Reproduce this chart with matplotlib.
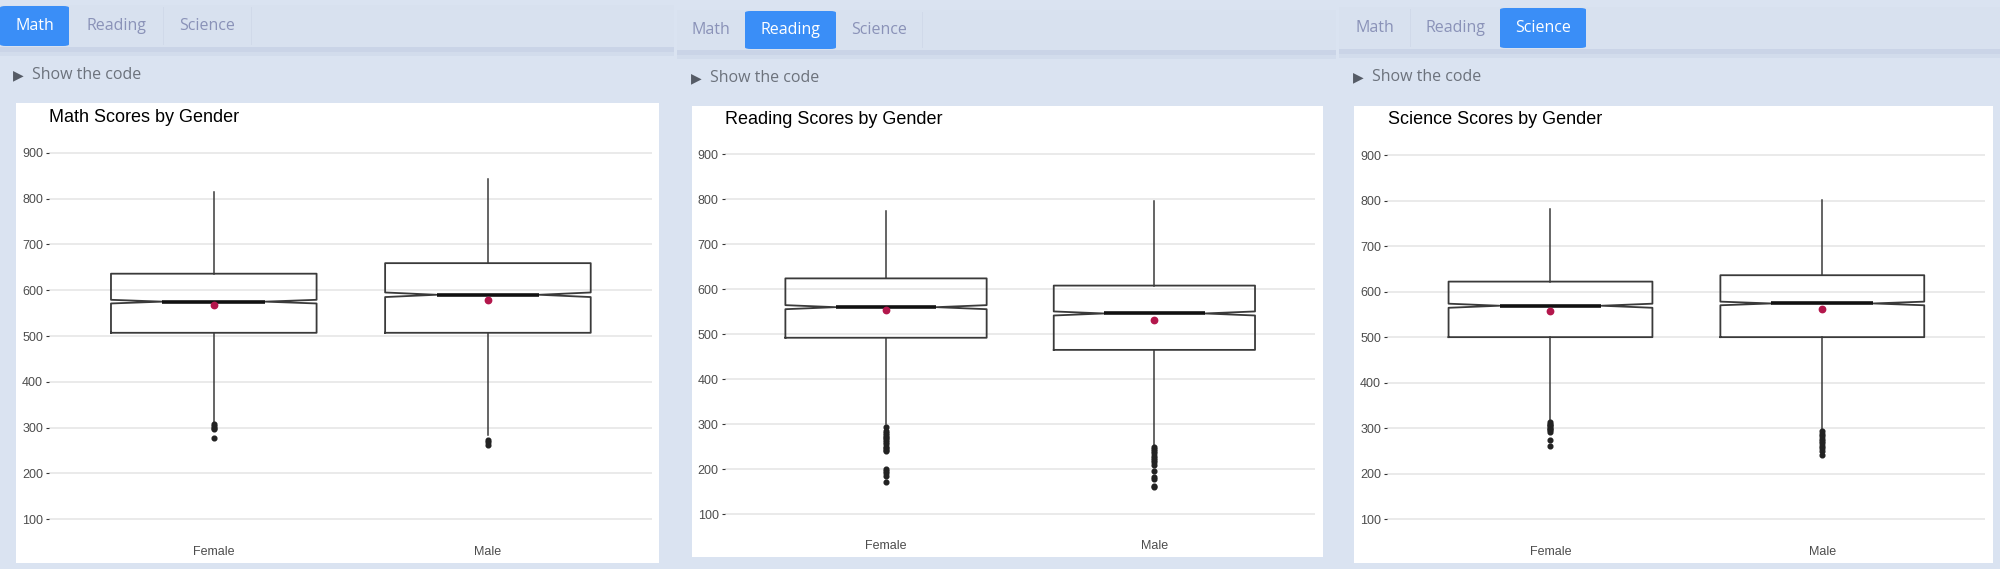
import matplotlib.pyplot as plt
from matplotlib.patches import Rectangle, FancyBboxPatch

subjects = ["Math", "Reading", "Science"]
genders = ["Female", "Male"]
y_ticks = [100, 200, 300, 400, 500, 600, 700, 800, 900]

# box stats: rows = subjects, columns = Female, Male
q1 = [[507, 507], [492, 465], [500, 500]]
medians = [[575, 590], [560, 546], [569, 574]]
q3 = [[636, 659], [624, 608], [622, 636]]
whisker_lo = [[312, 284], [300, 253], [316, 296]]
whisker_hi = [[814, 842], [774, 797], [781, 801]]
means = [[568, 578], [553, 531], [557, 562]]
notch_half = [[4, 5], [4.5, 4.5], [4.5, 4]]

math_fliers = [[307, 303, 299, 296, 278], [273, 268, 262]]
reading_fliers = [[294, 285, 280, 276, 272, 268, 264, 260, 255, 250, 247, 243, 240,
                   200, 196, 192, 185, 172],
                  [250, 245, 240, 235, 230, 225, 220, 215, 210, 195, 182, 178, 163, 160]]
science_fliers = [[313, 310, 307, 304, 301, 298, 295, 291, 274, 261],
                  [293, 287, 282, 277, 272, 267, 262, 256, 251, 241]]
fliers = [math_fliers, reading_fliers, science_fliers]

W, H = 2000, 569
BG = "#dae3f1"
BAR = "#d8e1ef"
BLUE = "#3a8ef7"

# page layout in pixels (left, right, top, bottom), one entry per screenshot panel
layout = [
    dict(bar=(0, 674, 5, 47), tabs=[(0, 69), (69, 163), (163, 251)], tab_y=26,
         code=(18, 75), white=(16, 659, 103, 563), title=(49, 117),
         axes=(49.3, 652.4, 134.4, 537.6)),
    dict(bar=(677, 1336, 10, 50), tabs=[(677, 745), (745, 836), (836, 922)], tab_y=30,
         code=(696, 78), white=(692, 1323, 106, 557), title=(725, 120),
         axes=(725, 1315.4, 136.3, 532)),
    dict(bar=(1339, 2000, 7, 49), tabs=[(1339, 1410), (1410, 1500), (1500, 1586)], tab_y=28,
         code=(1358, 77), white=(1354, 1993, 106, 563), title=(1388, 120),
         axes=(1387.4, 1985.4, 136.8, 537.5)),
]


def fx(x):
    return x / W


def fy(y):
    return 1 - y / H


def frect(l, r, t, b, **kw):
    return Rectangle((fx(l), fy(b)), (r - l) / W, (b - t) / H,
                     transform=fig.transFigure, **kw)


fig = plt.figure(figsize=(20, 5.69), dpi=100, facecolor=BG)

for i, subj in enumerate(subjects):
    p = layout[i]
    l, r, t, b = p["bar"]
    # tab bar with a soft shadow
    fig.add_artist(frect(l, r, b - 1, b + 5, color="#c6d1e5", lw=0, alpha=0.8, zorder=1))
    fig.add_artist(frect(l, r, b + 5, b + 9, color="#ccd6e8", lw=0, alpha=0.5, zorder=1))
    fig.add_artist(frect(l, r, t, b, color=BAR, lw=0, zorder=2))
    for k, (tl, tr) in enumerate(p["tabs"]):
        cx = (tl + tr) / 2
        if k == i:
            fig.add_artist(FancyBboxPatch((fx(tl), fy(b - 1)), (tr - tl) / W, (b - t - 2) / H,
                                          boxstyle="round,pad=0,rounding_size=0.003",
                                          transform=fig.transFigure, color=BLUE,
                                          lw=0, zorder=3))
            col = "white"
        else:
            col = "#8a92b8"
            fig.add_artist(frect(tr - 0.5, tr + 0.5, t + 2, b - 2, color="#d0d9e9",
                                 lw=0, zorder=3))
        fig.text(fx(cx), fy(p["tab_y"]), subjects[k], ha="center", va="center",
                 color=col, fontsize=11.5, family="Open Sans", zorder=4)

    # "Show the code" toggle
    cx, cy = p["code"]
    fig.text(fx(cx), fy(cy), "\u25b6", ha="center", va="center", color="#555b66",
             fontsize=10, family="DejaVu Sans")
    fig.text(fx(cx + 14), fy(cy), "Show the code", ha="left", va="center",
             color="#6c727c", fontsize=11.5, family="Open Sans")

    # white plot card
    fig.add_artist(frect(*p["white"], color="white", lw=0, zorder=-1))
    tx, ty = p["title"]
    fig.text(fx(tx), fy(ty), f"{subj} Scores by Gender", ha="left", va="center",
             color="black", fontsize=13, family="Liberation Sans")

    al, ar, at, ab = p["axes"]
    ax = fig.add_axes([fx(al), fy(ab), (ar - al) / W, (ab - at) / H])
    ax.set_facecolor("none")

    stats = []
    for j, g in enumerate(genders):
        m = medians[i][j]
        stats.append(dict(label=g, q1=q1[i][j], med=m, q3=q3[i][j],
                          whislo=whisker_lo[i][j], whishi=whisker_hi[i][j],
                          mean=means[i][j], fliers=fliers[i][j],
                          cilo=m - notch_half[i][j], cihi=m + notch_half[i][j]))

    ax.bxp(stats, positions=[1, 2], widths=0.75, shownotches=True, showmeans=True,
           showcaps=False,
           boxprops=dict(color="#3a3a3a", linewidth=1.3),
           whiskerprops=dict(color="#3a3a3a", linewidth=1.1),
           medianprops=dict(color="#111111", linewidth=2.6),
           flierprops=dict(marker="o", markersize=3.4, markerfacecolor="#222222",
                           markeredgecolor="#222222", linestyle="none"),
           meanprops=dict(marker="o", markersize=4.6, markerfacecolor="#b3174c",
                          markeredgecolor="#b3174c"))

    ax.set_xlim(0.4, 2.6)
    ax.set_ylim(60, 940)
    ax.set_yticks(y_ticks)
    ax.yaxis.grid(True, color="#e6e6e6", linewidth=1.2)
    ax.set_axisbelow(True)
    for s in ax.spines.values():
        s.set_visible(False)
    ax.tick_params(axis="y", length=2.5, width=0.8, color="#333333", pad=2,
                   labelsize=9, labelcolor="#4d4d4d")
    ax.tick_params(axis="x", length=0, pad=6, labelsize=9, labelcolor="#4d4d4d")
    for lab in ax.get_xticklabels() + ax.get_yticklabels():
        lab.set_family("Liberation Sans")

fig.savefig("out.png", dpi=100, facecolor=BG)
